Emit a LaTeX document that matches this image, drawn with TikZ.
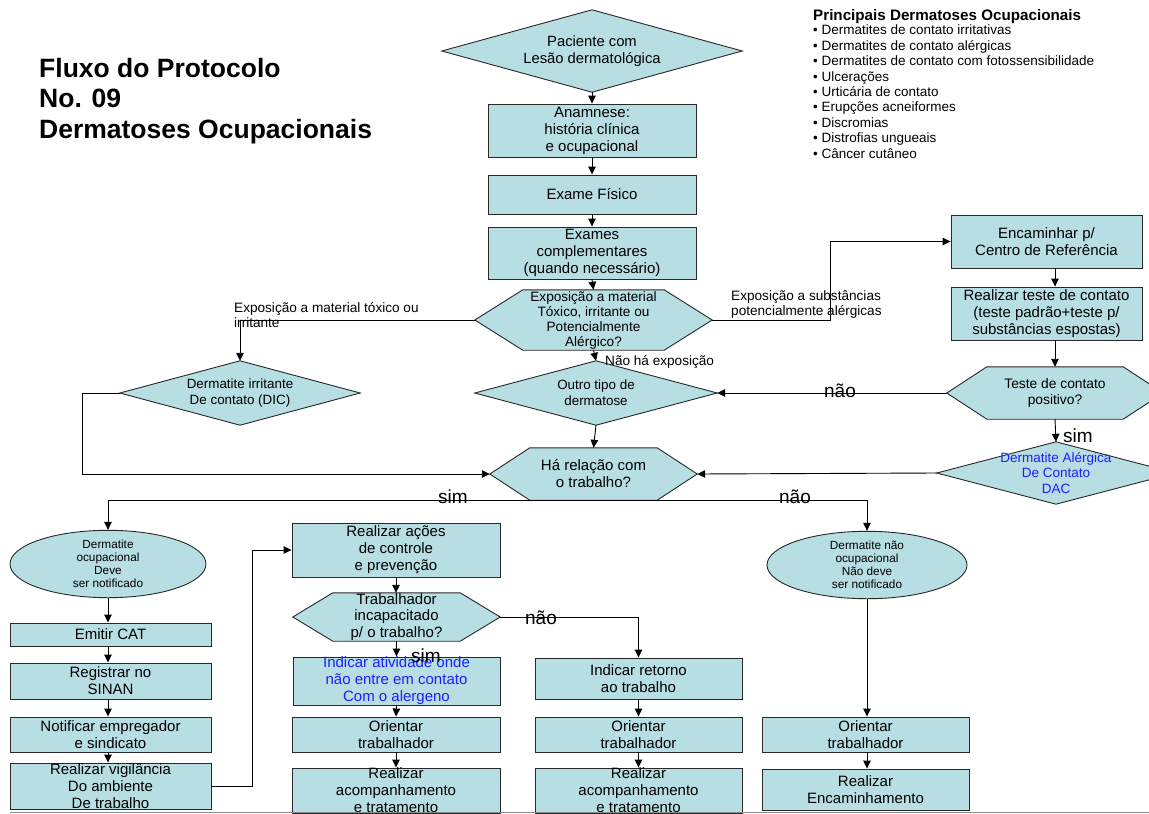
\documentclass[tikz,border=0pt]{standalone}
\usepackage{fontspec}
\setmainfont{Liberation Sans}
\usetikzlibrary{arrows.meta,shapes.geometric,backgrounds,calc}
\definecolor{boxfill}{RGB}{183,222,226}
\definecolor{edgecol}{RGB}{40,40,40}
\definecolor{bluetxt}{RGB}{30,30,255}
\newcommand\dia[1]{\begin{pgfonlayer}{background}\path[shp] (#1.west) -- (#1.north) -- (#1.east) -- (#1.south) -- cycle;\end{pgfonlayer}}
\newcommand\hexa[2]{\begin{pgfonlayer}{background}\path[shp] (#1.west) -- ([xshift=#2pt]#1.north west) -- ([xshift=-#2pt]#1.north east) -- (#1.east) -- ([xshift=-#2pt]#1.south east) -- ([xshift=#2pt]#1.south west) -- cycle;\end{pgfonlayer}}
\begin{document}
\begin{tikzpicture}[x=1pt,y=-1pt,
 box/.style={draw=edgecol, fill=boxfill, line width=0.9pt, rectangle, inner sep=0pt, align=center, font=\fontsize{15}{17}\selectfont},
 shp/.style={draw=edgecol, fill=boxfill, line width=0.9pt},
 holder/.style={rectangle, inner sep=0pt, align=center, font=\fontsize{13.6}{15.5}\selectfont},
 ell/.style={ellipse, draw=edgecol, fill=boxfill, line width=0.9pt, inner sep=0pt, align=center, font=\fontsize{11.8}{13}\selectfont},
 arr/.style={-{Triangle[length=8pt,width=7.5pt]}, line width=0.9pt, draw=black},
 lbl/.style={font=\fontsize{13.6}{15.5}\selectfont, inner sep=0pt, align=left},
 big/.style={font=\fontsize{19}{21}\selectfont, inner sep=0pt}]
\useasboundingbox (0,0) rectangle (1149,814);
\begin{pgfonlayer}{background}
\fill[white] (0,0) rectangle (1149,814);
\end{pgfonlayer}

% title and legend
\node[anchor=west, align=left, inner sep=0pt, font=\bfseries\fontsize{26.5}{30.5}\selectfont] (title) at (39,101) {Fluxo do Protocolo\\No. 09\\Dermatoses Ocupacionais};
\node[anchor=west, inner sep=0pt, font=\bfseries\fontsize{15.2}{16}\selectfont] (legt) at (813,16.5) {Principais Dermatoses Ocupacionais};
\node[anchor=north west, align=left, inner sep=0pt, font=\fontsize{13.5}{15.4}\selectfont] (legi) at (813,25) {• Dermatites de contato irritativas\\• Dermatites de contato alérgicas\\• Dermatites de contato com fotossensibilidade\\• Ulcerações\\• Urticária de contato\\• Erupções acneiformes\\• Discromias\\• Distrofias ungueais\\• Câncer cutâneo};

% central column
\node[holder, minimum width=300, minimum height=82, font=\fontsize{14.8}{17}\selectfont] (start) at (592,51) {Paciente com\\Lesão dermatológica};
\dia{start}
\node[box, minimum width=208, minimum height=53] (anam) at (592,130.5) {Anamnese:\\história clínica\\e ocupacional};
\node[box, minimum width=208, minimum height=39] (exame) at (592,194.5) {Exame Físico};
\node[box, minimum width=208, minimum height=52] (compl) at (592,253) {Exames\\complementares\\(quando necessário)};
\node[holder, minimum width=237, minimum height=60, font=\fontsize{13.6}{15}\selectfont] (expo) at (593.5,320) {Exposição a material\\Tóxico, irritante ou\\Potencialmente\\Alérgico?};
\hexa{expo}{48}
\node[holder, minimum width=240, minimum height=64, font=\fontsize{13.4}{16.5}\selectfont] (dic) at (240,393) {Dermatite irritante\\De contato (DIC)};
\dia{dic}
\node[holder, minimum width=242, minimum height=64, font=\fontsize{13.4}{16}\selectfont] (outro) at (596,393) {Outro tipo de\\dermatose};
\dia{outro}
\node[holder, minimum width=207, minimum height=52, font=\fontsize{15}{17}\selectfont] (rel) at (593.5,474) {Há relação com\\o trabalho?};
\hexa{rel}{40}

% right column
\node[box, minimum width=191, minimum height=53] (encam) at (1046.5,241.5) {Encaminhar p/\\Centro de Referência};
\node[box, minimum width=191, minimum height=53] (realteste) at (1046.5,313.5) {Realizar teste de contato\\(teste padrão+teste p/\\substâncias espostas)};
\node[holder, minimum width=216, minimum height=52, font=\fontsize{13.8}{16}\selectfont] (teste) at (1055,393) {Teste de contato\\positivo?};
\hexa{teste}{40}
\node[holder, minimum width=238, minimum height=62, font=\fontsize{13.5}{15.5}\selectfont, text=bluetxt] (dac) at (1056,473) {Dermatite Alérgica\\De Contato\\DAC};
\dia{dac}

% lower left column
\node[ell, minimum width=196, minimum height=58] (ocup) at (108,564) {Dermatite\\ocupacional\\Deve\\ser notificado};
\node[box, minimum width=201, minimum height=23] (cat) at (110.5,634.5) {Emitir CAT};
\node[box, minimum width=201, minimum height=36] (sinan) at (110.5,681) {Registrar no\\SINAN};
\node[box, minimum width=201, minimum height=35] (notif) at (110.5,734.5) {Notificar empregador\\e sindicato};
\node[box, minimum width=201, minimum height=46] (vigil) at (110.5,786) {Realizar vigilância\\Do ambiente\\De trabalho};

% lower middle column
\node[box, minimum width=208, minimum height=54] (acoes) at (396,550) {Realizar ações\\de controle\\e prevenção};
\node[holder, minimum width=207, minimum height=48, font=\fontsize{15}{16.5}\selectfont] (trab) at (396.5,617) {Trabalhador\\incapacitado\\p/ o trabalho?};
\hexa{trab}{40}
\node[box, minimum width=207, minimum height=36, text=bluetxt] (indativ) at (396.5,681) {Indicar atividade onde\\não entre em contato\\Com o alergeno};
\node[box, minimum width=208, minimum height=35] (orient1) at (396,734.5) {Orientar\\trabalhador};
\node[box, minimum width=208, minimum height=43] (acomp1) at (396,790.5) {Realizar\\acompanhamento\\e tratamento};

\node[box, minimum width=207, minimum height=41] (retorno) at (638.5,678.5) {Indicar retorno\\ao trabalho};
\node[box, minimum width=207, minimum height=35] (orient2) at (638.5,734.5) {Orientar\\trabalhador};
\node[box, minimum width=207, minimum height=43] (acomp2) at (638.5,790.5) {Realizar\\acompanhamento\\e tratamento};

% lower right column
\node[ell, minimum width=200, minimum height=56] (naoocup) at (867,565) {Dermatite não\\ocupacional\\Não deve\\ser notificado};
\node[box, minimum width=207, minimum height=35] (orient3) at (865.5,734.5) {Orientar\\trabalhador};
\node[box, minimum width=207, minimum height=41] (encam2) at (865.5,789.5) {Realizar\\Encaminhamento};

% connectors
\draw[arr] (start.south) -- (anam.north);
\draw[arr] (anam.south) -- (exame.north);
\draw[arr] (exame.south) -- (compl.north);
\draw[arr] (compl.south) -- (expo.north);
\draw[arr] (expo.west) -| (dic.north);
\coordinate (kexp) at (830,320);
\draw[arr] (expo.east) -- (kexp) |- (encam.west);
\draw[arr] (teste.north |- encam.south) -- (teste.north |- realteste.north);
\draw[arr] (teste.north |- realteste.south) -- (teste.north);
\draw[arr] (teste.west) -- (outro.east);
\draw[arr] (teste.south) -- (dac.north);
\draw[arr] (dac.west) -- (rel.east);
\draw[arr] (expo.south) -- (outro.north);
\draw[arr] (outro.south) -- (rel.north);
\coordinate (kdic) at (82,393);
\draw[arr] (dic.west) -- (kdic) |- (rel.west);
\draw[arr] (rel.south) -| (ocup.north);
\draw[arr] (rel.south) -| (naoocup.north);
\draw[arr] (ocup.south) -- (ocup.south |- cat.north);
\draw[arr] (ocup.south |- cat.south) -- (ocup.south |- sinan.north);
\draw[arr] (ocup.south |- sinan.south) -- (ocup.south |- notif.north);
\draw[arr] (ocup.south |- notif.south) -- (ocup.south |- vigil.north);
\coordinate (kvig) at (252,786);
\draw[arr] (vigil.east) -- (kvig) |- (acoes.west);
\draw[arr] (acoes.south) -- (acoes.south |- trab.north);
\draw[arr] (trab.south) -- (indativ.north);
\draw[arr] (trab.east) -| (retorno.north);
\draw[arr] (indativ.south) -- (orient1.north);
\draw[arr] (orient1.south) -- (acomp1.north);
\draw[arr] (retorno.south) -- (orient2.north);
\draw[arr] (orient2.south) -- (acomp2.north);
\draw[arr] (naoocup.south) -- (naoocup.south |- orient3.north);
\draw[arr] (naoocup.south |- orient3.south) -- (naoocup.south |- encam2.north);

% connector labels
\node[lbl, anchor=north west] (l1) at (234,302) {Exposição a material tóxico ou\\irritante};
\node[lbl, anchor=north west] (l2) at (731,290) {Exposição a substâncias\\potencialmente alérgicas};
\node[lbl, anchor=west] (l3) at (605,362) {Não há exposição};
\node[big] (l4) at (840,391) {não};
\node[big] (l5) at (1078,436) {sim};
\node[big] (l6) at (453,497) {sim};
\node[big] (l7) at (795,497) {não};
\node[big] (l8) at (541,618) {não};
\node[big] (l9) at (426,656) {sim};

% page rule
\draw[black!45, line width=1.5pt] (10,812.5) -- (1149,812.5);
\end{tikzpicture}
\end{document}
